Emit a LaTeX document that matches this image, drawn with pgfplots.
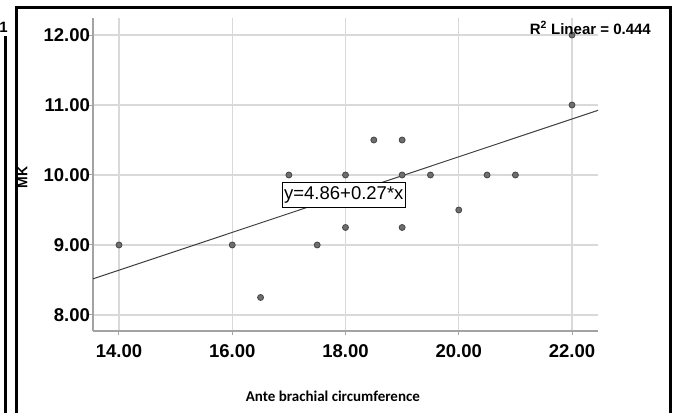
\documentclass[border=0pt]{standalone}
\usepackage{fontspec}
\setmainfont{Liberation Sans}
\newfontfamily\carlito{Carlito}
\usepackage{pgfplots}
\pgfplotsset{compat=1.18}
\definecolor{gridgray}{HTML}{D9D9D9}
\definecolor{axgray}{HTML}{A3A3A3}
\definecolor{ptfill}{HTML}{6E6E6E}
\definecolor{ptdraw}{HTML}{454545}
\definecolor{fitline}{HTML}{404040}

\begin{document}
\begin{tikzpicture}[x=1pt,y=1pt]
\useasboundingbox (0,0) rectangle (674,413);
% cell frame around the chart
\begin{scope}
  \clip (0,0) rectangle (674,413);
  \node[anchor=east, inner sep=0pt, font=\bfseries\fontsize{15}{15}\selectfont] at (8,386) {1};
\end{scope}
\draw[line width=3pt] (5.5,0) -- (5.5,377);
\draw[line width=3pt] (16,0) -- (16,405) -- (670.5,405) -- (670.5,0);

\begin{axis}[
    at={(93pt,82pt)}, anchor=south west,
    scale only axis,
    width=505pt, height=313pt,
    xmin=13.541, xmax=22.459,
    ymin=7.771, ymax=12.243,
    clip=false,
    axis x line*=bottom, axis y line*=left,
    axis line style={-},
    x axis line style={axgray, line width=2pt},
    y axis line style={axgray, line width=1.2pt},
    xtick={14,16,18,20,22},
    ytick={8,9,10,11,12},
    grid=major,
    grid style={gridgray, line width=1.2pt},
    tick align=outside,
    major tick length=4pt,
    tick style={axgray, line width=1pt},
    /pgf/number format/.cd, fixed, fixed zerofill, precision=2, assume math mode=true,
    /pgfplots/.cd,
    tick label style={font=\bfseries\fontsize{18.5}{18.5}\selectfont},
    xticklabel style={yshift=-6pt},
    yticklabel style={xshift=4.5pt},
    xlabel={Ante brachial circumference},
    xlabel style={at={(axis description cs:0.475,-0.2077)}, anchor=center,
        font=\carlito\bfseries\fontsize{15}{15}\selectfont},
    ylabel={MK},
    ylabel style={at={(axis description cs:-0.1396,0.49)}, anchor=center,
        font=\bfseries\fontsize{14}{14}\selectfont},
]

% fit line y = 4.86 + 0.27x across the x range
\addplot[fitline, line width=1pt] coordinates {(13.541,8.516) (22.459,10.924)};

\addplot[only marks, mark=*, mark size=3pt,
    mark options={fill=ptfill, draw=ptdraw, line width=0.8pt}] coordinates {
    (14,9) (16,9) (16.5,8.25) (17,10) (17.5,9)
    (18,10) (18,9.25) (18.5,10.5) (19,10.5) (19,10) (19,9.25)
    (19.5,10) (20,9.5) (20.5,10) (21,10) (22,12) (22,11)
};

\node[draw=black, fill=white, line width=0.9pt, inner xsep=1.5pt, inner ysep=4pt,
    font=\fontsize{18.5}{18.5}\selectfont] at (axis cs:17.97,9.71) {y=4.86+0.27*x};
\end{axis}

\node[anchor=east, inner sep=0pt, font=\bfseries\fontsize{15}{15}\selectfont]
    at (651,385) {R\textsuperscript{2} Linear = 0.444};
\end{tikzpicture}
\end{document}
